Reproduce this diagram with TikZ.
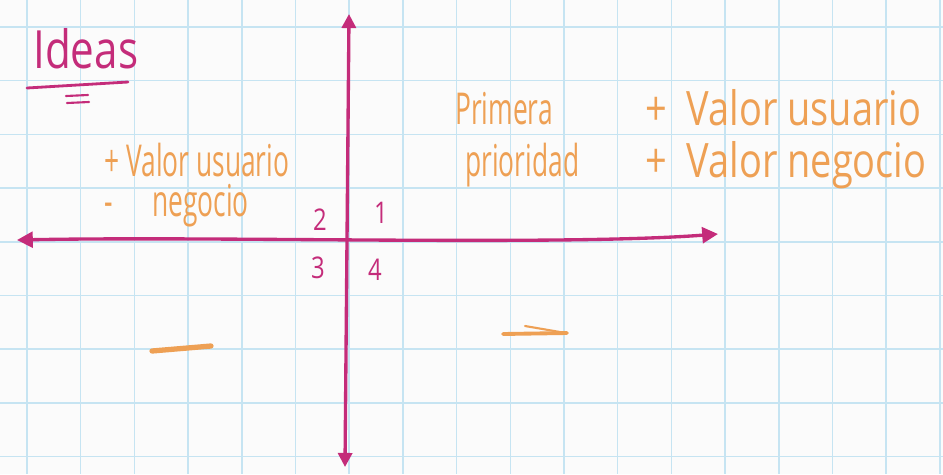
\documentclass[tikz,border=0pt]{standalone}
\usepackage{fontspec}
\usepackage{tikz}
\usetikzlibrary{positioning, calc, arrows.meta}
\newfontfamily\handfont[FakeStretch=0.8]{Open Sans}
\newfontfamily\narrowfont[FakeStretch=0.6]{Open Sans}
\definecolor{inkpink}{RGB}{196,44,122}
\definecolor{inkorange}{RGB}{238,160,84}
\definecolor{gridblue}{RGB}{198,228,242}
\definecolor{paper}{RGB}{251,251,251}
\tikzset{
  axis/.style={inkpink, line width=1.9pt, line cap=round},
  note/.style={inkorange, anchor=base west, inner sep=0pt, font=\handfont\fontsize{27}{27}\selectfont},
  smallnote/.style={inkorange, anchor=base west, inner sep=0pt, font=\narrowfont\fontsize{25}{25}\selectfont},
  quad/.style={inkpink, inner sep=0pt, font=\handfont\fontsize{17}{17}\selectfont},
  dash mark/.style={inkorange, line width=3pt, line cap=round}
}

\begin{document}
\begin{tikzpicture}[x=0.02cm, y=-0.02cm]
    \useasboundingbox (0,0) rectangle (943,474);
    \clip (0,0) rectangle (943,474);
    \fill[paper] (0,0) rectangle (943,474);
    % squared paper
    \foreach \k in {0,...,17} {
        \draw[gridblue, line width=0.9pt] ({27+53.7*\k},0) -- ({27+53.7*\k},474);
    }
    \foreach \k in {0,...,8} {
        \draw[gridblue, line width=0.9pt] (0,{27+53.7*\k}) -- (943,{27+53.7*\k});
    }
    % title
    \node[inkpink, anchor=base west, inner sep=0pt, font=\handfont\fontsize{30}{30}\selectfont] (title) at (33,68) {Ideas};
    \draw[inkpink, line width=1.6pt, line cap=round] (27,88) -- (128,82);
    \draw[inkpink, line width=1.2pt, line cap=round] (66,96) -- (88,95) (67,103) -- (89,102);
    % axes
    \coordinate (west) at (17,240);
    \coordinate (east) at (718,234);
    \coordinate (north) at (349,14);
    \coordinate (south) at (345,467);
    \draw[axis, {Triangle[length=9pt,width=9pt]}-{Triangle[length=9pt,width=9pt]}]
        (west) .. controls (220,236) and (560,246) .. (east);
    \draw[axis, {Triangle[length=8pt,width=8pt]}-{Triangle[length=8pt,width=8pt]}]
        (north) -- (south);
    % quadrant numbers
    \node[quad] (q2) at (320,220) {2};
    \node[quad] (q1) at (381,213) {1};
    \node[quad] (q3) at (318,268) {3};
    \node[quad] (q4) at (375,270) {4};
    % notes
    \node[smallnote] (leftuser) at (104,176) {+ Valor usuario};
    \node[smallnote] (leftbiz) at (104,216) {-\hspace{0.9em}negocio};
    \node[smallnote] (first) at (455,124) {Primera};
    \node[smallnote] (priority) at (465,176) {prioridad};
    \node[note] (rightuser) at (645,125) {+ \ Valor usuario};
    \node[note] (rightbiz) at (645,177) {+ \ Valor negocio};
    % marks
    \draw[dash mark] (152,351) -- (211,346);
    \draw[dash mark, line width=2.2pt] (503,334) -- (567,333);
    \draw[inkorange, line width=1.2pt, line cap=round] (525,326) -- (560,332);
\end{tikzpicture}
\end{document}
